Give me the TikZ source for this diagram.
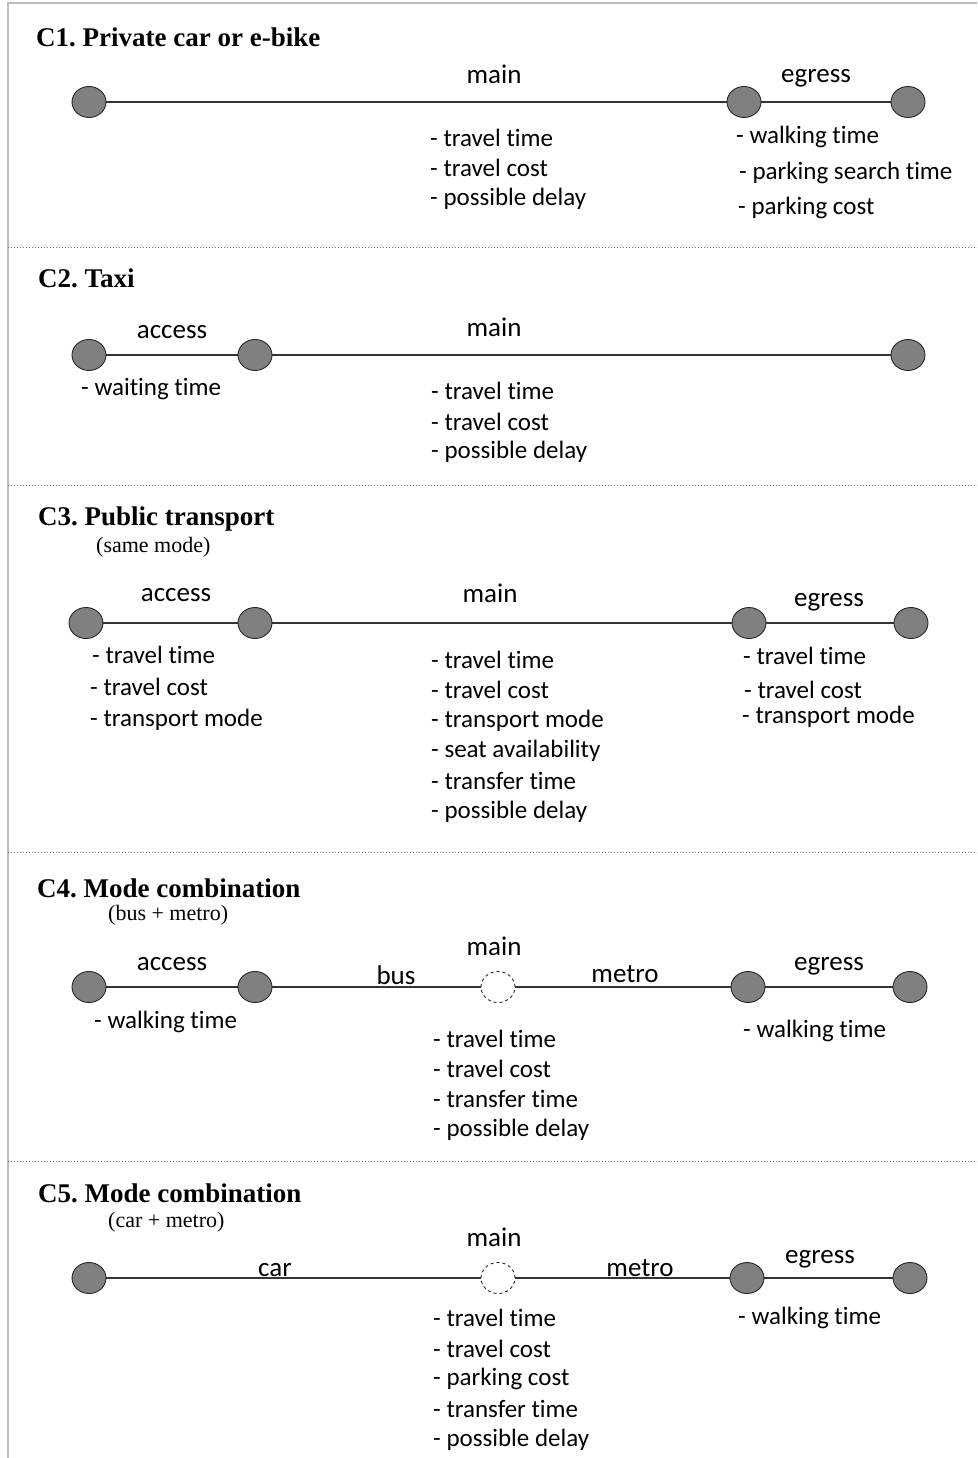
\documentclass[tikz,border=0pt]{standalone}
\usepackage{fontspec}
\setmainfont{Liberation Serif}
\newfontfamily\labfont[RawFeature={-liga}]{Carlito}
\usetikzlibrary{shapes.geometric}
\definecolor{dotfill}{HTML}{808080}
\definecolor{dotdraw}{HTML}{262626}
\definecolor{linecol}{HTML}{333333}
\definecolor{framecol}{HTML}{BDBDBD}
\definecolor{sepcol}{HTML}{707070}
\frenchspacing
\tikzset{
  stop/.style={ellipse, draw=dotdraw, fill=dotfill, line width=0.9pt, minimum width=34pt, minimum height=31pt, inner sep=0pt},
  hub/.style={ellipse, draw=dotdraw, dashed, fill=white, line width=0.9pt, minimum width=34pt, minimum height=31pt, inner sep=0pt},
  conn/.style={draw=linecol, line width=1.3pt},
  seglab/.style={font=\labfont\fontsize{27}{31}\selectfont, inner sep=0pt, anchor=center},
  item/.style={font=\labfont\fontsize{25}{29}\selectfont, inner sep=0pt, anchor=west},
  ttl/.style={font=\bfseries\fontsize{27}{31}\selectfont, inner sep=0pt, anchor=west},
  sub/.style={font=\fontsize{22}{26}\selectfont, inner sep=0pt, anchor=west},
  sepline/.style={draw=sepcol, line width=1pt, dotted},
  frame/.style={draw=framecol, line width=1.6pt}
}
\begin{document}
\begin{tikzpicture}[x=1pt, y=-1pt]
\useasboundingbox (0,0) rectangle (977,1458);
% frame
\coordinate (ftl) at (8,3);
\coordinate (ftr) at (977,3);
\coordinate (fbl) at (8,1458);
\draw[frame] (ftr) -- (ftl) -- (fbl);
% separators
\foreach \i/\yy in {1/247, 2/485, 3/852, 4/1161} {
  \coordinate (sepL\i) at (8,\yy);
  \coordinate (sepR\i) at (977,\yy);
  \draw[sepline] (sepL\i) -- (sepR\i);
}

% ---------- C1 ----------
\node[ttl] (t1) at (36,37) {C1. Private car or e-bike};
\node[stop] (a1) at (89,102) {};
\node[stop] (b1) at (744,102) {};
\node[stop] (c1) at (908,102) {};
\draw[conn] (a1) -- (b1);
\draw[conn] (b1) -- (c1);
\node[seglab] (m1) at (494,74) {main};
\node[seglab] (e1) at (816,78) {egress};
\node[item] (m1a) at (430,138) {- travel time};
\node[item] (m1b) at (430,168) {- travel cost};
\node[item] (m1c) at (430,199) {- possible delay};
\node[item] (e1a) at (736,137) {- walking time};
\node[item] (e1b) at (739,173) {- parking search time};
\node[item] (e1c) at (738,208) {- parking cost};

% ---------- C2 ----------
\node[ttl] (t2) at (38,278) {C2. Taxi};
\node[stop] (a2) at (89,355) {};
\node[stop] (b2) at (255,355) {};
\node[stop] (c2) at (908,355) {};
\draw[conn] (a2) -- (b2);
\draw[conn] (b2) -- (c2);
\node[seglab] (ac2) at (172,332) {access};
\node[seglab] (m2) at (494,327) {main};
\node[item] (ac2a) at (81,389) {- waiting time};
\node[item] (m2a) at (431,391) {- travel time};
\node[item] (m2b) at (431,422) {- travel cost};
\node[item] (m2c) at (431,452) {- possible delay};

% ---------- C3 ----------
\node[ttl] (t3) at (38,519) {C3. Public transport};
\node[sub] (s3) at (96,547) {(same mode)};
\node[stop] (a3) at (86,623) {};
\node[stop] (b3) at (255,623) {};
\node[stop] (c3) at (749,623) {};
\node[stop] (d3) at (911,623) {};
\draw[conn] (a3) -- (b3);
\draw[conn] (b3) -- (c3);
\draw[conn] (c3) -- (d3);
\node[seglab] (ac3) at (176,595) {access};
\node[seglab] (m3) at (490,593) {main};
\node[seglab] (e3) at (829,602) {egress};
\node[item] (ac3a) at (92,655) {- travel time};
\node[item] (ac3b) at (90,687) {- travel cost};
\node[item] (ac3c) at (90,720) {- transport mode};
\node[item] (m3a) at (431,660) {- travel time};
\node[item] (m3b) at (431,690) {- travel cost};
\node[item] (m3c) at (431,721) {- transport mode};
\node[item] (m3d) at (431,751) {- seat availability};
\node[item] (m3e) at (431,781) {- transfer time};
\node[item] (m3f) at (431,812) {- possible delay};
\node[item] (e3a) at (743,656) {- travel time};
\node[item] (e3b) at (744,690) {- travel cost};
\node[item] (e3c) at (742,717) {- transport mode};

% ---------- C4 ----------
\node[ttl] (t4) at (37,888) {C4. Mode combination};
\node[sub] (s4) at (108,915) {(bus + metro)};
\node[stop] (a4) at (89,987) {};
\node[stop] (b4) at (255,987) {};
\node[hub] (h4) at (498,987) {};
\node[stop] (c4) at (748,987) {};
\node[stop] (d4) at (910,987) {};
\draw[conn] (a4) -- (b4);
\draw[conn] (b4) -- (h4);
\draw[conn] (h4) -- (c4);
\draw[conn] (c4) -- (d4);
\node[seglab] (ac4) at (172,964) {access};
\node[seglab] (bus4) at (396,975) {bus};
\node[seglab] (m4) at (494,946) {main};
\node[seglab] (met4) at (625,974) {metro};
\node[seglab] (e4) at (829,966) {egress};
\node[item] (ac4a) at (94,1022) {- walking time};
\node[item] (m4a) at (433,1039) {- travel time};
\node[item] (m4b) at (433,1069) {- travel cost};
\node[item] (m4c) at (433,1099) {- transfer time};
\node[item] (m4d) at (433,1130) {- possible delay};
\node[item] (e4a) at (743,1031) {- walking time};

% ---------- C5 ----------
\node[ttl] (t5) at (38,1193) {C5. Mode combination};
\node[sub] (s5) at (108,1222) {(car + metro)};
\node[stop] (a5) at (89,1278) {};
\node[hub] (h5) at (498,1278) {};
\node[stop] (c5) at (747,1278) {};
\node[stop] (d5) at (910,1278) {};
\draw[conn] (a5) -- (h5);
\draw[conn] (h5) -- (c5);
\draw[conn] (c5) -- (d5);
\node[seglab] (car5) at (275,1270) {car};
\node[seglab] (m5) at (494,1237) {main};
\node[seglab] (met5) at (640,1268) {metro};
\node[seglab] (e5) at (820,1259) {egress};
\node[item] (e5a) at (738,1318) {- walking time};
\node[item] (m5a) at (433,1318) {- travel time};
\node[item] (m5b) at (433,1349) {- travel cost};
\node[item] (m5c) at (433,1379) {- parking cost};
\node[item] (m5d) at (433,1409) {- transfer time};
\node[item] (m5e) at (433,1440) {- possible delay};
\end{tikzpicture}
\end{document}
